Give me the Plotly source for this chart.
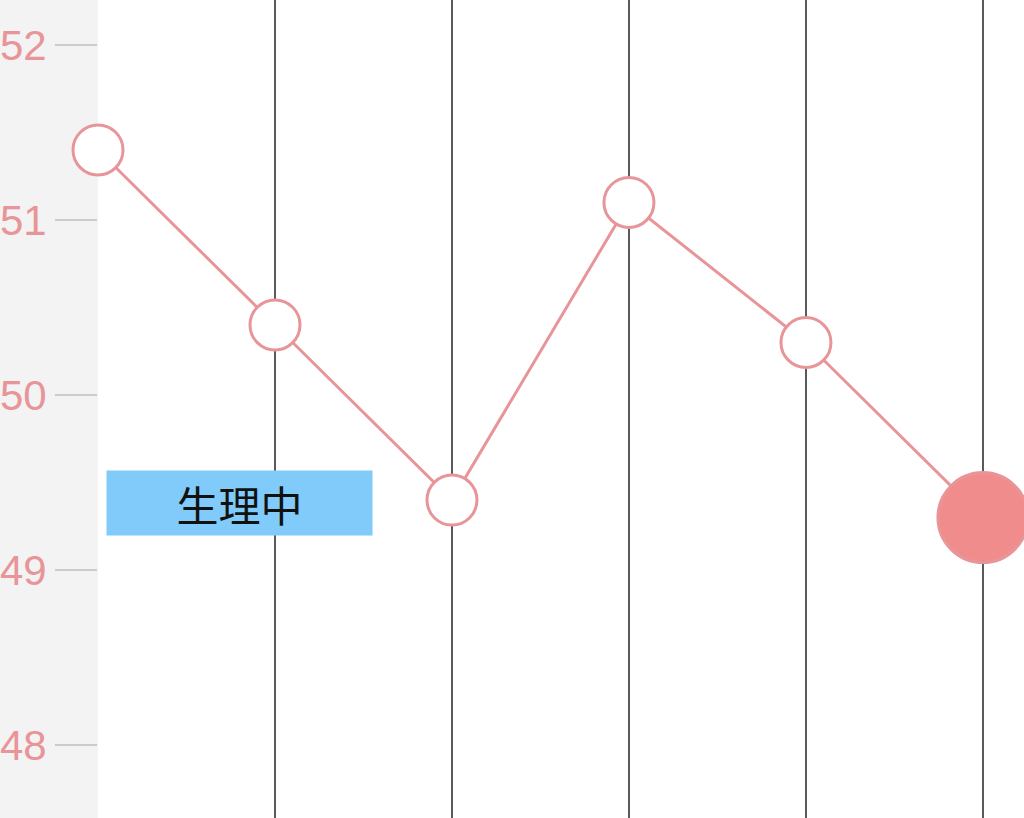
import plotly.graph_objects as go

# Data
days = [0, 1, 2, 3, 4, 5]
weights = [51.4, 50.4, 49.4, 51.1, 50.3, 49.3]
y_ticks = [48, 49, 50, 51, 52]
label_text = "生理中"

pink = "#e8959a"
marker_colors = ["white"] * (len(days) - 1) + ["#f08c8c"]
marker_sizes = [50] * (len(days) - 1) + [90]

fig = go.Figure()
fig.add_trace(go.Scatter(
    x=days, y=weights, mode="lines+markers",
    line=dict(color=pink, width=3),
    marker=dict(size=marker_sizes, color=marker_colors, opacity=1,
                line=dict(color=pink, width=3)),
    cliponaxis=False, hoverinfo="skip", showlegend=False,
))

fig.add_annotation(
    x=0.797, y=49.383, xref="x", yref="y", text=label_text,
    showarrow=False, width=265, height=64, bgcolor="#80cbf9",
    font=dict(family="Noto Sans CJK JP", size=42, color="#111111"),
    borderpad=0,
)

fig.update_layout(
    template="none",
    width=1024, height=818,
    margin=dict(l=98, r=0, t=0, b=0, pad=0),
    paper_bgcolor="#f3f3f3", plot_bgcolor="white",
    xaxis=dict(range=[0, 5.232], tickvals=days, showticklabels=False,
               showgrid=True, gridcolor="#5a5a5a", gridwidth=2,
               zeroline=False, showline=False, ticks="", automargin=False),
    yaxis=dict(range=[47.583, 52.257], tickvals=y_ticks,
               ticktext=[str(v) for v in y_ticks],
               showgrid=False, zeroline=False, showline=False,
               ticks="outside", ticklen=42, tickcolor="#cccccc", tickwidth=2,
               tickfont=dict(family="Liberation Sans", size=42, color=pink),
               automargin=False),
)

fig.write_html("out.html", config={"displayModeBar": False, "staticPlot": True},
               post_script="document.body.style.margin='0';document.body.style.overflow='hidden';")
